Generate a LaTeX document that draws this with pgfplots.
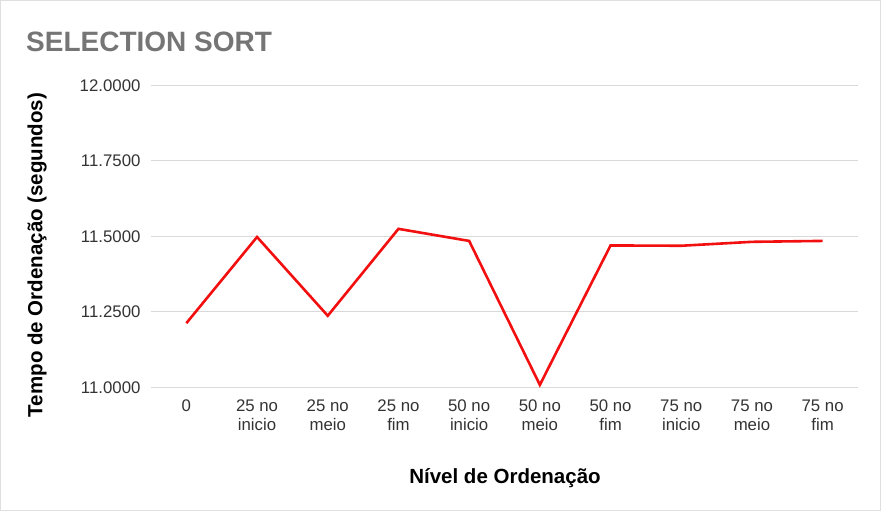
\documentclass[border=0pt]{standalone}
\usepackage{pgfplots}
\pgfplotsset{compat=1.18}
\usepackage{fontspec}
\setmainfont{Liberation Sans}
\definecolor{linered}{HTML}{F20F0F}
\definecolor{gridgray}{HTML}{D9D9D9}
\definecolor{titlegray}{HTML}{757575}
\definecolor{ticktext}{HTML}{333333}

\begin{document}
\begin{tikzpicture}
\useasboundingbox (0pt,0pt) rectangle (881pt,511pt);
\draw[gray!25, line width=1pt] (0.5pt,0.5pt) rectangle (880.5pt,510.5pt);
% title
\node[anchor=base west, text=titlegray, font=\fontsize{28}{32}\selectfont\bfseries, inner sep=0pt]
  at (26pt,459pt) {SELECTION SORT};
% axis titles
\node[rotate=90, font=\fontsize{20.5}{23}\selectfont\bfseries, inner sep=0pt]
  at (37pt,256pt) {Tempo de Ordenação (segundos)};
\node[font=\fontsize{20.5}{23}\selectfont\bfseries, inner sep=0pt]
  at (505pt,33pt) {Nível de Ordenação};
\begin{axis}[
    at={(151pt,123.7pt)},
    anchor=south west,
    scale only axis,
    width=707pt,
    height=301.8pt,
    xmin=-0.5, xmax=9.5,
    ymin=11, ymax=12,
    ytick={11,11.25,11.5,11.75,12},
    xtick={0,...,9},
    xticklabels={0,{25 no\\inicio},{25 no\\meio},{25 no\\fim},{50 no\\inicio},{50 no\\meio},{50 no\\fim},{75 no\\inicio},{75 no\\meio},{75 no\\fim}},
    ymajorgrids,
    grid style={gridgray, line width=1.1pt},
    axis line style={draw=none},
    major tick length=0pt,
    /pgf/number format/assume math mode=true,
    /pgf/number format/.cd, fixed, fixed zerofill, precision=4, /pgfplots/.cd,
    yticklabel style={font=\fontsize{16.8}{19}\selectfont, text=ticktext, xshift=-7pt},
    xticklabel style={font=\fontsize{16.8}{19}\selectfont, text=ticktext, align=center, yshift=-9pt},
    clip=false,
]
\addplot[linered, line width=2.6pt, line join=miter] coordinates {
    (0,11.2125)
    (1,11.498)
    (2,11.237)
    (3,11.525)
    (4,11.485)
    (5,11.008)
    (6,11.470)
    (7,11.469)
    (8,11.482)
    (9,11.485)
};
\end{axis}
\end{tikzpicture}
\end{document}
